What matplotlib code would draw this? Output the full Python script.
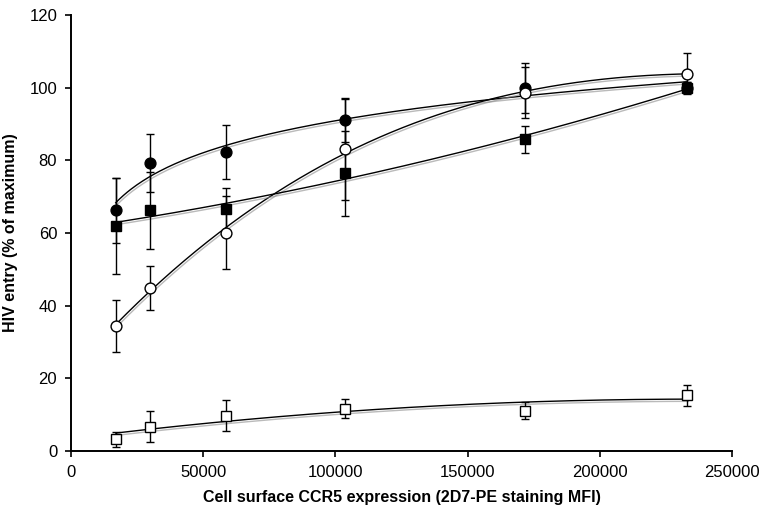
import numpy as np
import matplotlib
matplotlib.use('Agg')
import matplotlib.pyplot as plt
import matplotlib.patheffects as pe

plt.rcParams['font.family'] = ['Liberation Sans', 'DejaVu Sans']

# CCR5 expression (2D7-PE staining MFI)
ccr5 = [16900, 29700, 58600, 103800, 171800, 233100]

# HIV entry (% of maximum) and errors for each series
filled_circle = [66.2, 79.2, 82.3, 91.1, 99.9, 100.0]
filled_circle_err = [9.0, 8.0, 7.5, 6.0, 6.8, 1.5]

open_circle = [34.5, 44.9, 60.1, 83.0, 98.6, 103.9]
open_circle_err = [7.2, 6.0, 10.0, 13.8, 7.0, 5.7]

filled_square = [62.0, 66.2, 66.5, 76.4, 85.8, 100.0]
filled_square_err = [13.2, 10.5, 6.0, 11.8, 3.7, 1.5]

open_square = [3.2, 6.7, 9.7, 11.7, 11.1, 15.3]
open_square_err = [2.0, 4.3, 4.3, 2.5, 2.3, 2.9]


def Trend(x, y, kind):
    # trendline over the data range, like the spreadsheet ones
    x = np.array(x, dtype=float)
    xs = np.linspace(x.min(), x.max(), 300)
    if kind == 'log':
        Coef = np.polyfit(np.log(x), y, 1)
        return xs, np.polyval(Coef, np.log(xs))
    Coef = np.polyfit(x / 1e5, y, kind)
    return xs, np.polyval(Coef, xs / 1e5)


fig = plt.figure(figsize=(7.64, 5.11), dpi=100)
ax = fig.add_axes([0.093, 0.1174, 0.865, 0.8532])

shadow = [pe.SimpleLineShadow(offset=(0.8, -1.6), shadow_color='0.55', alpha=0.6), pe.Normal()]

series = [
    (filled_circle, filled_circle_err, 'o', 'black', 'log'),
    (open_circle, open_circle_err, 'o', 'white', 3),
    (filled_square, filled_square_err, 's', 'black', 2),
    (open_square, open_square_err, 's', 'white', 2),
]

for Y, Err, Marker, Face, Kind in series:
    xs, ys = Trend(ccr5, Y, Kind)
    ax.plot(xs, ys, color='black', lw=1.0, path_effects=shadow, zorder=2)
    ax.errorbar(ccr5, Y, yerr=Err, fmt='none', ecolor='black', elinewidth=1.0,
                capsize=2.8, capthick=1.0, zorder=3)
    ax.plot(ccr5, Y, linestyle='none', marker=Marker, markersize=7.8 if Marker == 'o' else 7.5,
            markerfacecolor=Face, markeredgecolor='black', markeredgewidth=1.0, zorder=4)

ax.set_xlim(0, 250000)
ax.set_ylim(0, 120)
ax.set_xticks(np.arange(0, 250001, 50000))
ax.set_yticks(np.arange(0, 121, 20))
ax.spines['top'].set_visible(False)
ax.spines['right'].set_visible(False)
ax.spines['left'].set_linewidth(1.4)
ax.spines['bottom'].set_linewidth(1.4)
ax.tick_params(direction='out', length=4, width=1.2, labelsize=12, pad=6)

ax.set_xlabel('Cell surface CCR5 expression (2D7-PE staining MFI)', fontsize=11.5,
              fontweight='bold', labelpad=7)
ax.set_ylabel('HIV entry (% of maximum)', fontsize=11.5, fontweight='bold', labelpad=8)

fig.savefig('out.png', dpi=100)
